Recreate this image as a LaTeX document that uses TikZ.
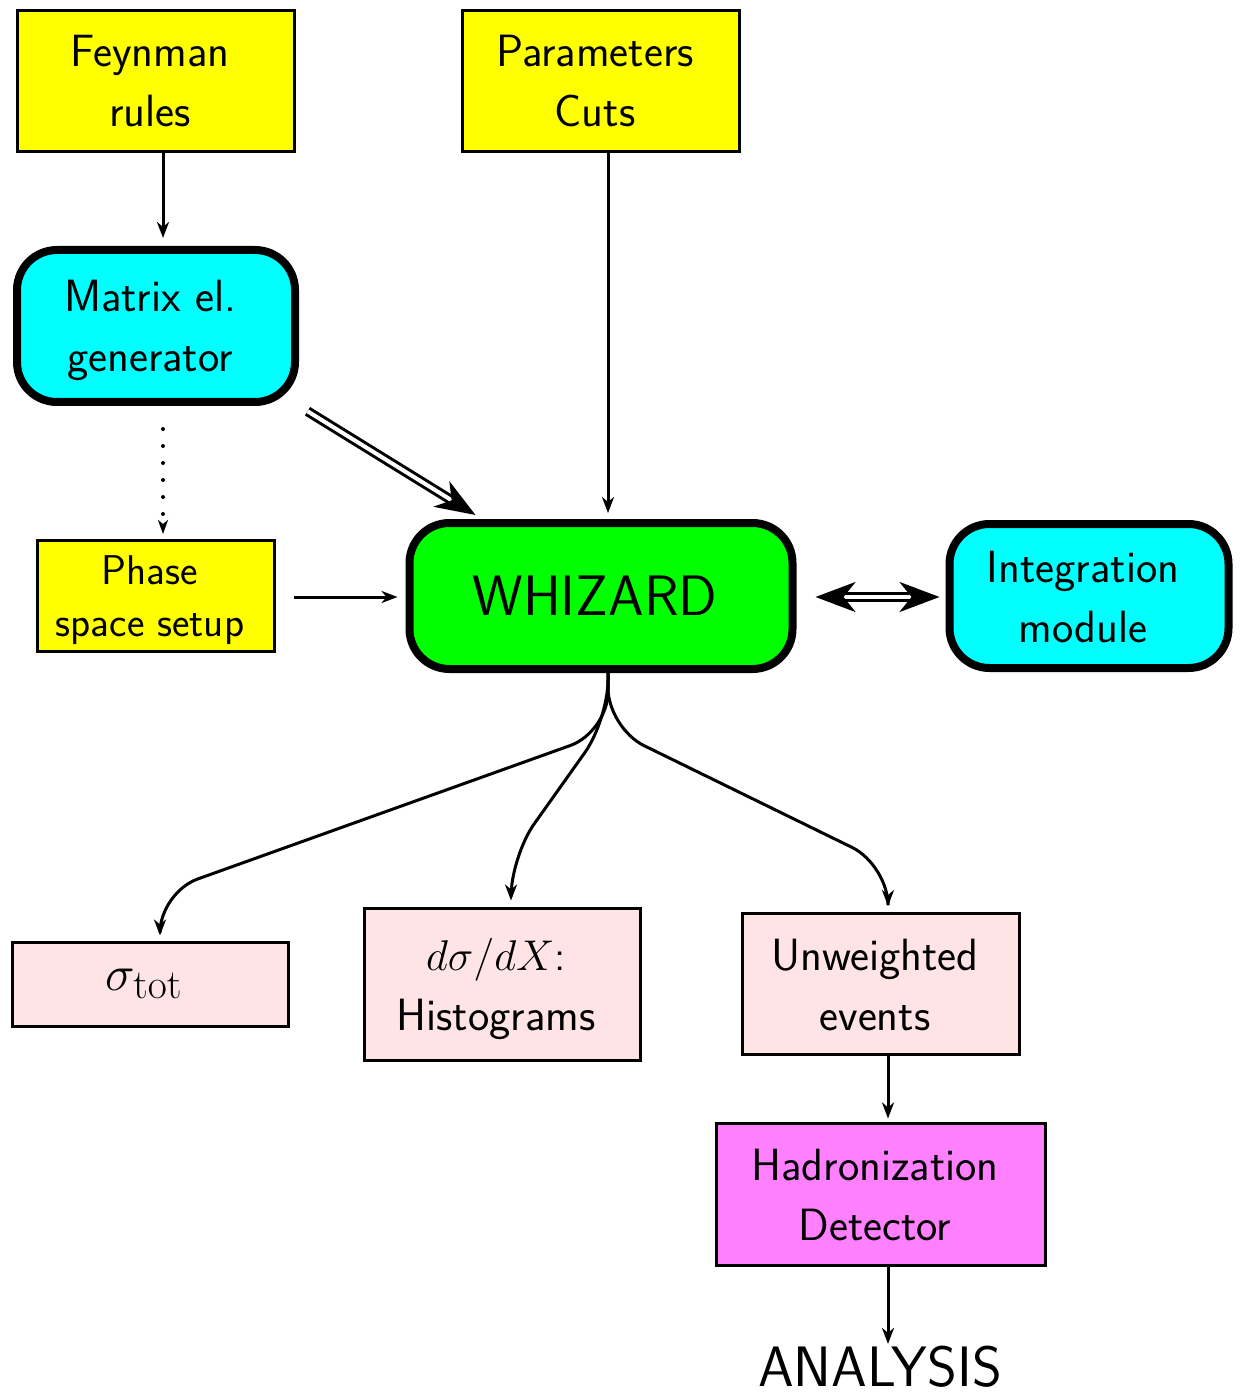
\RequirePackage{fix-cm}
\documentclass[tikz,border=0pt]{standalone}
\usepackage{tikz}
\usetikzlibrary{arrows.meta}

\definecolor{inyellow}{RGB}{255,255,0}
\definecolor{modcyan}{RGB}{0,255,255}
\definecolor{wizgreen}{RGB}{0,255,0}
\definecolor{outpink}{RGB}{255,228,230}
\definecolor{hadpink}{RGB}{255,128,255}

\newcommand{\boxfont}{\fontsize{22.6}{30}\selectfont\sffamily}
\newcommand{\phfont}{\fontsize{20.8}{26}\selectfont\sffamily}
\newcommand{\bigfont}{\fontsize{28.5}{30}\selectfont\sffamily}
\newcommand{\sigfont}{\fontsize{24.88}{30}\selectfont}
% text sits a little left of the box centre
\newcommand{\lines}[1]{\raisebox{-2pt}[\height][\depth]{\begin{tabular}{@{}c@{}}#1\end{tabular}}\hspace*{6pt}}

\tikzset{bigtip/.tip={Stealth[length=20pt,width=15pt,inset=6pt]}}

\begin{document}
\begin{tikzpicture}[x=0.5pt,y=-0.5pt,
  inbox/.style={draw, line width=1.5pt, fill=inyellow, font=\boxfont, inner sep=0pt},
  modbox/.style={draw, line width=4pt, rounded corners=20pt, fill=modcyan, font=\boxfont, inner sep=0pt},
  outbox/.style={draw, line width=1.5pt, fill=outpink, font=\boxfont, inner sep=0pt},
  arr/.style={line width=1.5pt, -{Stealth[length=8pt,width=6pt,inset=2.5pt]}},
  dblarr/.style={double, double distance=2pt, line width=1.5pt},
  dotline/.style={line width=2pt, line cap=round, dash pattern=on 0pt off 8.5pt}
]
\useasboundingbox (0,0) rectangle (1242,1395);

%%%%%INPUTS AND MODULES%%%%%
\node[inbox, minimum width=138.5pt, minimum height=70.5pt] (feyn) at (156,81) {\lines{Feynman\\rules}};
\node[inbox, minimum width=138.5pt, minimum height=70.5pt] (par) at (601,81) {\lines{Parameters\\Cuts}};
\node[modbox, minimum width=139pt, minimum height=76pt] (mat) at (156,326) {\lines{Matrix el.\\generator}};
\node[inbox, minimum width=118.5pt, minimum height=55.5pt, font=\phfont] (ph) at (156,596) {\lines{Phase\\space setup}};
\node[modbox, fill=wizgreen, minimum width=191.5pt, minimum height=73pt, font=\bigfont] (wiz) at (601,596) {WHIZARD\hspace*{6pt}};
\node[modbox, minimum width=139.5pt, minimum height=72pt] (int) at (1089,596) {\lines{Integration\\module}};

%%%%%OUTPUTS%%%%%
\node[outbox, minimum width=138pt, minimum height=42pt, font=\sigfont] (sig) at (150,984) {$\sigma_{\rm tot}$\hspace*{6pt}};
\node[outbox, minimum width=138pt, minimum height=76pt] (hist) at (502,984) {\lines{{\fontsize{21.5}{30}\selectfont$d\sigma/dX$:}\\Histograms}};
\node[outbox, minimum width=138.5pt, minimum height=70.5pt] (unw) at (881,984) {\lines{Unweighted\\events}};
\node[outbox, fill=hadpink, minimum width=164.5pt, minimum height=71pt] (had) at (881,1194) {\lines{Hadronization\\Detector}};
\node[font=\bigfont, inner sep=1pt] (ana) at (880,1367) {ANALYSIS};

%%%%%ARROWS%%%%%
\draw[arr, shorten >=4pt] ([xshift=3.5pt]feyn.south) -- ([xshift=3.5pt]mat.north);
\draw[arr, shorten >=3pt] ([xshift=3.5pt]par.south) -- ([xshift=3.5pt]wiz.north);
\draw[dblarr, -bigtip, shorten <=5pt] (mat.south east) -- ([xshift=35pt,yshift=2pt]wiz.north west);
\draw[dotline, -{Stealth[length=7pt,width=5pt,inset=2pt]}, shorten <=11.5pt, shorten >=2.5pt] ([xshift=3.5pt]mat.south) -- ([xshift=3.5pt]ph.north);
\draw[arr, shorten <=9pt, shorten >=4pt] ([yshift=-0.5pt]ph.east) -- ([yshift=-0.5pt]wiz.west);
\draw[dblarr, bigtip-bigtip, shorten <=9.5pt, shorten >=3pt] ([yshift=-0.5pt]wiz.east) -- ([yshift=-0.5pt]int.west);

%%%%%FROM WHIZARD%%%%%
\draw[arr, rounded corners=20pt, shorten >=2.5pt] ([xshift=3.5pt]wiz.south) -- ++(0,59) -- ([xshift=5pt,yshift=24pt]sig.north) -- ([xshift=5pt]sig.north);
\draw[arr, rounded corners=20pt, shorten >=3pt] ([xshift=3.5pt]wiz.south) -- ++(0,47) -- ([xshift=4.5pt,yshift=25pt]hist.north) -- ([xshift=4.5pt]hist.north);
\draw[arr, rounded corners=20pt, shorten >=3pt] ([xshift=3.5pt]wiz.south) -- ++(0,55) -- ([xshift=3.5pt,yshift=23.5pt]unw.north) -- ([xshift=3.5pt]unw.north);
\draw[arr, shorten >=1.5pt] ([xshift=3.5pt]unw.south) -- ([xshift=3.5pt]had.north);
\draw[arr] ([xshift=3.5pt]had.south) -- ([xshift=4pt]ana.north);

\end{tikzpicture}
\end{document}
